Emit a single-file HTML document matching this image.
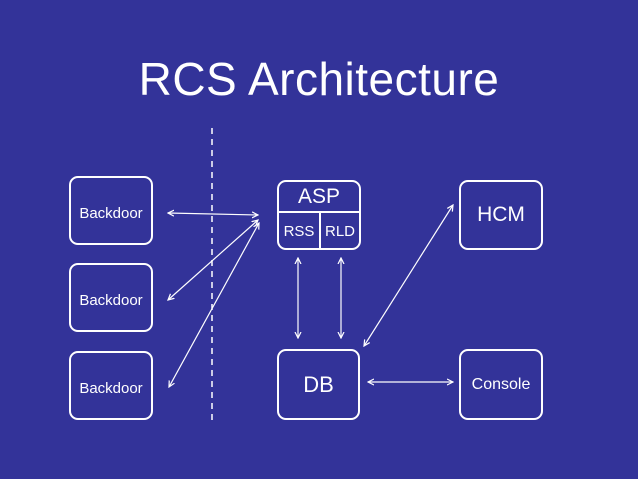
<!DOCTYPE html>
<html><head><style>
body{margin:0;width:638px;height:479px;background:#333399;overflow:hidden;font-family:"Liberation Sans",sans-serif;color:#fff}
.t{position:absolute;left:0;width:638px;top:52px;text-align:center;font-size:46px;letter-spacing:0.5px}
.b{position:absolute;border:2px solid #fff;border-radius:9px;box-sizing:border-box;display:flex;align-items:center;justify-content:center}
</style></head><body>
<div class="t">RCS Architecture</div>
<div class="b" style="left:69px;top:176px;width:84px;height:69px;font-size:15px;padding-top:6px">Backdoor</div>
<div class="b" style="left:69px;top:263px;width:84px;height:69px;font-size:15px;padding-top:6px">Backdoor</div>
<div class="b" style="left:69px;top:351px;width:84px;height:69px;font-size:15px;padding-top:6px">Backdoor</div>
<div class="b" style="left:277px;top:180px;width:84px;height:70px;display:block">
 <div style="height:29px;border-bottom:2px solid #fff;text-align:center;font-size:21px;line-height:29px">ASP</div>
 <div style="display:flex;height:37px;font-size:15px;line-height:37px"><div style="width:40px;text-align:center;border-right:2px solid #fff">RSS</div><div style="flex:1;text-align:center">RLD</div></div>
</div>
<div class="b" style="left:277px;top:349px;width:83px;height:71px;font-size:22px">DB</div>
<div class="b" style="left:459px;top:180px;width:84px;height:70px;font-size:21px">HCM</div>
<div class="b" style="left:459px;top:349px;width:84px;height:71px;font-size:16px">Console</div>
<svg width="638" height="479" style="position:absolute;left:0;top:0">
<defs><marker id="a" markerWidth="6" markerHeight="6" refX="5" refY="3" orient="auto-start-reverse"><path d="M0,0.5L5,3L0,5.5" fill="none" stroke="#fff" stroke-width="1"/></marker></defs>
<g stroke="#fff" stroke-width="1.2" fill="none" marker-start="url(#a)" marker-end="url(#a)">
<line x1="168" y1="213" x2="258" y2="215"/>
<line x1="168" y1="300" x2="258" y2="220"/>
<line x1="169" y1="387" x2="259" y2="223"/>
<line x1="298" y1="258" x2="298" y2="338"/>
<line x1="341" y1="258" x2="341" y2="338"/>
<line x1="364" y1="346" x2="453" y2="205"/>
<line x1="368" y1="382" x2="453" y2="382"/>
</g>
<line x1="212" y1="128" x2="212" y2="420" stroke="#fff" stroke-width="1.5" stroke-dasharray="6,5"/>
</svg>
</body></html>
